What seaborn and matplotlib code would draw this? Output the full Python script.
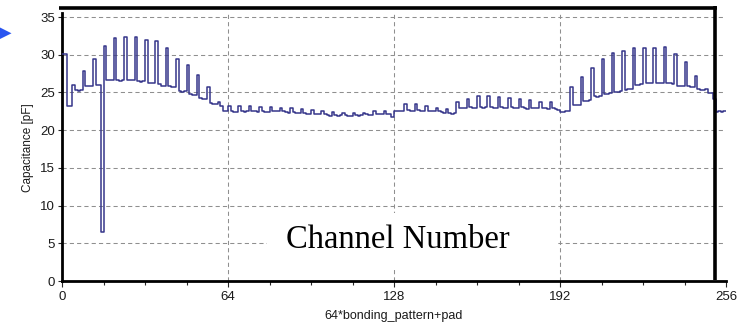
import matplotlib
matplotlib.use("Agg")
import matplotlib.pyplot as plt
import pandas as pd
import seaborn as sns
from matplotlib.lines import Line2D
from matplotlib.patches import Rectangle, Polygon
from matplotlib.ticker import MultipleLocator

# Measured capacitance per readout channel (pF), 16 channels per row
capacitance = [
    30.1, 30.1, 23.2, 23.2, 26.0, 25.3, 25.2, 25.3, 27.9, 25.9, 25.8, 25.9, 29.5, 26.0, 26.0, 6.5,
    31.2, 26.7, 26.6, 26.7, 32.2, 26.7, 26.5, 26.6, 32.3, 26.6, 26.7, 26.6, 32.3, 26.5, 26.4, 26.5,
    32.0, 26.3, 26.2, 26.2, 31.8, 26.1, 25.9, 25.9, 30.9, 25.8, 25.7, 25.7, 29.5, 25.2, 25.1, 25.2,
    28.6, 24.8, 24.7, 24.7, 27.3, 24.3, 24.2, 24.1, 25.7, 23.6, 23.5, 23.5, 23.7, 23.2, 22.6, 22.6,
    23.2, 22.5, 22.4, 22.4, 23.2, 22.5, 22.4, 22.5, 23.2, 22.5, 22.5, 22.4, 23.1, 22.5, 22.4, 22.4,
    23.1, 22.6, 22.5, 22.5, 23.0, 22.5, 22.4, 22.3, 22.9, 22.4, 22.3, 22.3, 22.8, 22.3, 22.2, 22.2,
    22.7, 22.2, 22.1, 22.1, 22.5, 22.1, 22.0, 21.9, 22.4, 22.0, 21.9, 22.0, 22.3, 22.0, 21.9, 21.9,
    22.3, 22.0, 21.9, 22.0, 22.3, 22.1, 22.0, 22.0, 22.5, 22.2, 22.2, 22.1, 22.6, 22.2, 22.1, 21.7,
    22.5, 22.5, 22.6, 22.6, 23.5, 22.7, 22.6, 22.6, 23.5, 22.7, 22.6, 22.5, 23.2, 22.6, 22.6, 22.5,
    22.9, 22.5, 22.4, 22.3, 22.8, 22.3, 22.2, 22.3, 23.8, 22.9, 23.0, 23.0, 24.2, 23.1, 23.0, 23.0,
    24.5, 23.1, 23.0, 23.1, 24.5, 23.1, 23.0, 22.9, 24.4, 23.1, 23.0, 23.0, 24.3, 23.1, 23.0, 22.9,
    24.2, 23.1, 23.0, 22.8, 24.0, 23.0, 22.9, 22.9, 23.8, 23.0, 22.9, 22.8, 23.7, 22.9, 22.8, 22.7,
    22.4, 22.4, 22.5, 22.5, 25.7, 23.3, 23.3, 23.4, 27.0, 23.9, 23.9, 24.0, 28.2, 24.5, 24.4, 24.5,
    29.4, 24.8, 24.8, 24.9, 30.3, 25.0, 25.1, 25.2, 30.5, 25.3, 25.4, 25.5, 30.9, 26.0, 26.0, 26.1,
    30.9, 26.2, 26.2, 26.3, 30.9, 26.3, 26.3, 26.2, 31.0, 26.2, 26.2, 26.1, 30.1, 25.9, 25.8, 25.8,
    29.0, 25.8, 25.7, 25.7, 27.2, 25.4, 25.3, 25.3, 25.4, 24.9, 24.9, 24.1, 22.4, 22.5, 22.4, 22.5,
]
channels = list(range(len(capacitance)))
x_ticks = [0, 64, 128, 192, 256]
y_ticks = [0, 5, 10, 15, 20, 25, 30, 35]

sns.set_style("white")
plt.rcParams["font.family"] = ["Liberation Sans", "DejaVu Sans"]

W, H = 746, 328
fig = plt.figure(figsize=(W / 100, H / 100), dpi=100)
ax = fig.add_axes([62 / W, 1 - 281 / H, 664 / W, (281 - 13.3) / H])

# step trace: repeat the last reading so the final channel gets its own step
df = pd.DataFrame({
    "channel": channels + [len(capacitance)],
    "capacitance": capacitance + [capacitance[-1]],
})
sns.lineplot(data=df, x="channel", y="capacitance", ax=ax, estimator=None,
             drawstyle="steps-post", color="#36368a", lw=1.1, zorder=3)

ax.set_xlim(0, 256)
ax.set_ylim(0, 35.5)
ax.set_xticks(x_ticks)
ax.set_yticks(y_ticks)
ax.xaxis.set_minor_locator(MultipleLocator(16))

ax.grid(True, which="major", color="#8f8f8f", lw=0.75, linestyle=(0, (4, 3)))
ax.xaxis.get_gridlines()[-1].set_visible(False)

for side in ("top", "right"):
    ax.spines[side].set_visible(False)
for side in ("left", "bottom"):
    ax.spines[side].set_color("black")
    ax.spines[side].set_linewidth(2.0)

ax.tick_params(axis="x", which="major", direction="out", length=4, width=0.8,
               labelsize=9.5, labelcolor="#1a1a1a", pad=3, bottom=True)
ax.tick_params(axis="x", which="minor", direction="out", length=3, width=0.8, bottom=True)
ax.tick_params(axis="y", which="major", direction="out", length=3, width=0.8,
               labelsize=9.5, labelcolor="#1a1a1a", pad=2, left=True)

ax.set_xlabel("64*bonding_pattern+pad", fontsize=9, color="#1a1a1a")
ax.xaxis.set_label_coords(0.5, -(310 - 281) / (281 - 13.3))
ax.set_ylabel("Capacitance [pF]", fontsize=8.5, color="#1a1a1a")
ax.yaxis.set_label_coords(-(62 - 34) / 664, 0.5)

# white label panel over the lower plot area
fig.add_artist(Rectangle((267 / W, 1 - 268 / H), (558 - 267) / W, 55 / H,
                         transform=fig.transFigure, facecolor="white",
                         edgecolor="none", zorder=1))
fig.text(286 / W, 1 - 248.3 / H, "Channel Number", fontsize=23.5,
         family=["Liberation Serif", "DejaVu Serif"], color="black",
         va="baseline", ha="left", zorder=2)

# heavy frame strokes
fig.add_artist(Line2D([59 / W, 717 / W], [1 - 7.5 / H, 1 - 7.5 / H],
                      transform=fig.transFigure, color="black", lw=2.6,
                      solid_capstyle="butt", zorder=4))
fig.add_artist(Line2D([715.3 / W, 715.3 / W], [1 - 5.7 / H, 1 - 280 / H],
                      transform=fig.transFigure, color="black", lw=2.6,
                      solid_capstyle="butt", zorder=4))

# pointer arrowhead at the left margin
fig.add_artist(Polygon([(0, 1 - 27.5 / H), (11.5 / W, 1 - 33.3 / H), (0, 1 - 39 / H)],
                       closed=True, transform=fig.transFigure,
                       facecolor="#2a55f0", edgecolor="none", zorder=4))

fig.savefig("out.png", dpi=100, facecolor="white")
